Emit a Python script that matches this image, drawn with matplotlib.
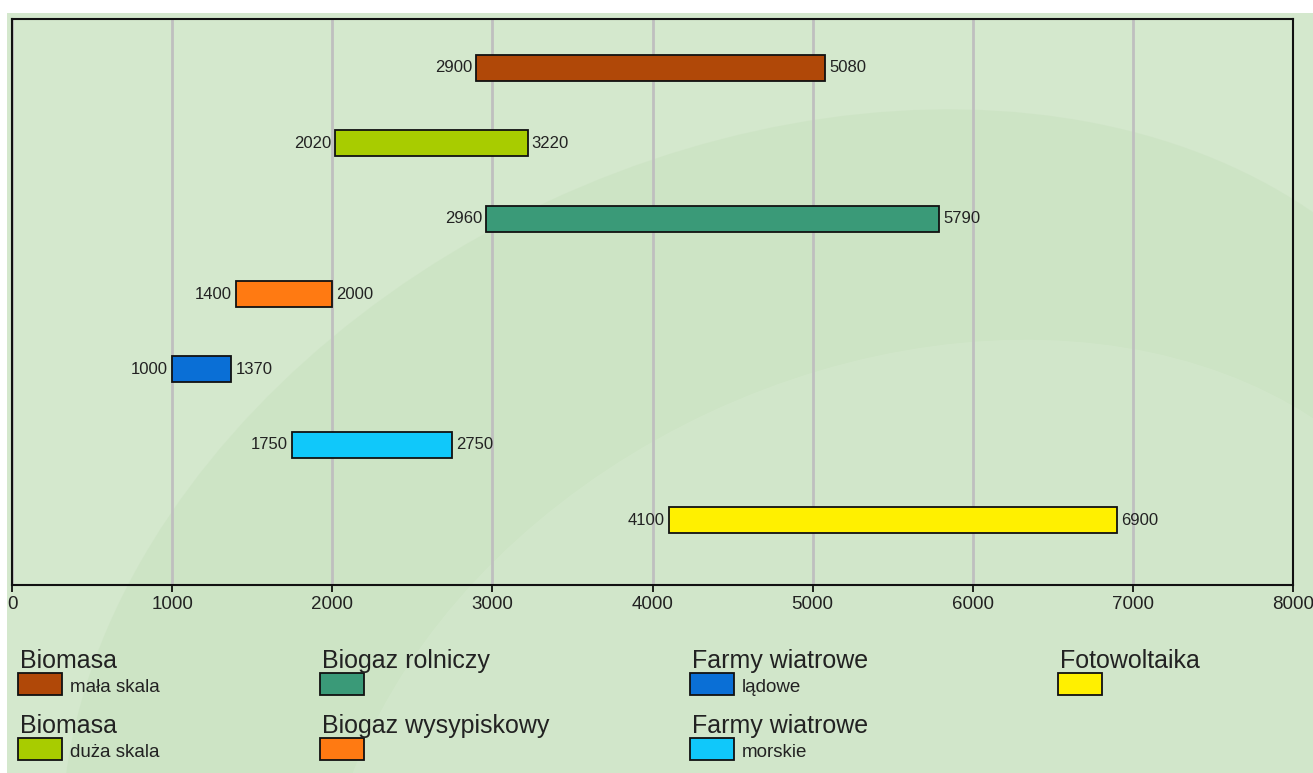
import matplotlib.pyplot as plt
from matplotlib.patches import Rectangle, Ellipse

plt.rcParams['font.family'] = ['Liberation Sans', 'DejaVu Sans']

# data
starts = [2900, 2020, 2960, 1400, 1000, 1750, 4100]
ends = [5080, 3220, 5790, 2000, 1370, 2750, 6900]
colors = ['#b04808', '#a8cc00', '#3a9a78', '#ff7a12', '#0a6fd6', '#10c8fa', '#fff000']
titles = ['Biomasa', 'Biomasa', 'Biogaz rolniczy', 'Biogaz wysypiskowy',
          'Farmy wiatrowe', 'Farmy wiatrowe', 'Fotowoltaika']
subs = ['mała skala', 'duża skala', '', '', 'lądowe', 'morskie', '']
xticks = [0, 1000, 2000, 3000, 4000, 5000, 6000, 7000, 8000]

W, H = 1313, 773
bg = '#d4e8cd'
fig = plt.figure(figsize=(W / 100, H / 100), dpi=100, facecolor=bg)

# background layer with faint swooshes
bgax = fig.add_axes([0, 0, 1, 1], zorder=0)
bgax.set_xlim(0, W)
bgax.set_ylim(H, 0)
bgax.axis('off')
bgax.add_patch(Ellipse((780, 700), 1500, 1100, angle=-25, facecolor='#c8e1bf',
                       edgecolor='none', alpha=0.5))
bgax.add_patch(Ellipse((900, 820), 1200, 900, angle=-25, facecolor=bg,
                       edgecolor='none', alpha=0.7))
bgax.add_patch(Rectangle((0, 0), W, 13, facecolor='white', edgecolor='none'))
bgax.add_patch(Rectangle((0, 0), 7, H, facecolor='white', edgecolor='none'))

ax = fig.add_axes([12 / W, 1 - 585 / H, (1293 - 12) / W, (585 - 19) / H], zorder=1)
ax.set_facecolor('none')

y = list(range(len(starts)))
widths = [e - s for s, e in zip(starts, ends)]
ax.barh(y, widths, left=starts, height=0.345, color=colors,
        edgecolor='#111111', linewidth=1.3, zorder=3)
for yi, s, e in zip(y, starts, ends):
    ax.text(s - 25, yi, str(s), ha='right', va='center', fontsize=12, color='#222222')
    ax.text(e + 25, yi, str(e), ha='left', va='center', fontsize=12, color='#222222')

ax.set_xlim(0, 8000)
ax.set_ylim(6.86, -0.65)
ax.set_xticks(xticks)
ax.set_xticklabels([str(t) for t in xticks], fontsize=13.5, color='#222222')
ax.set_yticks([])
ax.tick_params(axis='x', length=5, width=1.2, direction='out', pad=3)
ax.grid(axis='x', color='#bfbfbf', linewidth=2, zorder=0)
ax.set_axisbelow(True)
for sp in ax.spines.values():
    sp.set_color('#111111')
    sp.set_linewidth(1.5)

# custom legend
lax = fig.add_axes([0, 0, 1, 1], zorder=2)
lax.set_xlim(0, W)
lax.set_ylim(H, 0)
lax.axis('off')
col_x = [18, 18, 320, 320, 690, 690, 1058]
row_y = [0, 1, 0, 1, 0, 1, 0]
for t, s, c, cx, r in zip(titles, subs, colors, col_x, row_y):
    base = 668 + r * 65
    lax.text(cx + 2, base, t, fontsize=18, color='#222222', va='baseline')
    lax.add_patch(Rectangle((cx, base + 5), 44, 22, facecolor=c,
                            edgecolor='#111111', linewidth=1.3))
    if s:
        lax.text(cx + 52, base + 24, s, fontsize=13.5, color='#222222', va='baseline')

fig.savefig('out.png', dpi=100, facecolor=bg)
